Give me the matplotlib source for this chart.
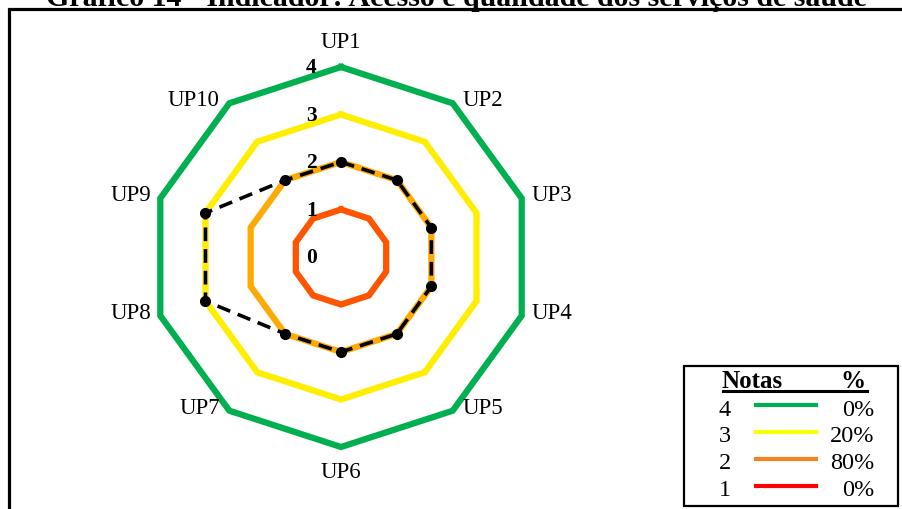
import numpy as np
import matplotlib.pyplot as plt
from matplotlib.patches import Rectangle

plt.rcParams['font.family'] = ['Liberation Serif', 'DejaVu Serif']

# scores of each unit (0-4 scale)
units = ['UP1', 'UP2', 'UP3', 'UP4', 'UP5', 'UP6', 'UP7', 'UP8', 'UP9', 'UP10']
scores = [2, 2, 2, 2, 2, 2, 2, 3, 3, 2]

# reference rings, one per grade
levels = [4, 3, 2, 1]
ring_colors = ['#00B050', '#FFEE00', '#FFAA00', '#FF5500']
legend_colors = ['#00B050', '#FFFF00', '#F58220', '#FF0000']
scale_ticks = [0, 1, 2, 3, 4]

title = 'Gráfico 14 - Indicador: Acesso e qualidade dos serviços de saúde'

n = len(units)
ang = np.pi / 2 - np.arange(n) * 2 * np.pi / n


def polar_xy(r):
    r = np.asarray(r, dtype=float)
    return r * np.cos(ang), r * np.sin(ang)


fig = plt.figure(figsize=(9.03, 5.10), dpi=100)
ax = fig.add_axes([0, 0, 1, 1])
px = 47.5  # pixels per unit
ax.set_xlim(-341 / px, (903 - 341) / px)
ax.set_ylim(-(510 - 258) / px, 258 / px)
ax.axis('off')

for lv, c in zip(levels, ring_colors):
    x, y = polar_xy([lv] * n)
    ax.plot(np.append(x, x[0]), np.append(y, y[0]), color=c, lw=4.5,
            solid_joinstyle='miter', zorder=2)

x, y = polar_xy(scores)
ax.plot(np.append(x, x[0]), np.append(y, y[0]), color='black', lw=2.6,
        ls=(0, (3.8, 2.2)), zorder=4)
ax.plot(x, y, 'o', color='black', ms=7, zorder=5)

for t in scale_ticks:
    ax.text(-0.62, t, str(t), ha='center', va='center', fontsize=15.5,
            fontweight='bold', zorder=6)

# unit labels just outside the outer ring
for i, name in enumerate(units):
    a = ang[i]
    cx, cy = np.cos(a), np.sin(a)
    if abs(cx) < 0.1:
        lx, ly = 0, 4.5 * np.sign(cy) + (0.03 if cy > 0 else -0.02)
        ha = 'center'
    else:
        lx, ly = 4 * cx + 0.2 * np.sign(cx), 4 * cy + 0.07
        ha = 'left' if cx > 0 else 'right'
    ax.text(lx, ly, name, ha=ha, va='center', fontsize=16.5)

# frame around the chart
fig.patches.append(Rectangle((9 / 903, -0.1), 1.2, 1 - 10 / 510 + 0.1,
                             transform=fig.transFigure, fill=False,
                             lw=2.3, ec='black', zorder=0))

fig.text(456 / 903, 1 - 6 / 510, title, ha='center', va='baseline',
         fontsize=21.5, fontweight='bold')

# grade legend
def fx(v):
    return v / 903


def fy(v):
    return 1 - v / 510


fig.patches.append(Rectangle((fx(684), fy(507)), fx(898 - 684), (507 - 367) / 510,
                             transform=fig.transFigure, fill=False,
                             lw=1.6, ec='black'))
fig.text(fx(752), fy(382), 'Notas', ha='center', va='center', fontsize=18,
         fontweight='bold')
fig.text(fx(853), fy(382), '%', ha='center', va='center', fontsize=18,
         fontweight='bold')
fig.add_artist(plt.Line2D([fx(723), fx(867)], [fy(392), fy(392)],
                          transform=fig.transFigure, color='black', lw=2.2))

row_y = [410, 437, 464, 491]
for lv, c, ry in zip(levels, legend_colors, row_y):
    pct = 100 * sum(s == lv for s in scores) / n
    fig.text(fx(725), fy(ry), str(lv), ha='center', va='center', fontsize=17.5)
    fig.add_artist(plt.Line2D([fx(756), fx(816)], [fy(ry - 4), fy(ry - 4)],
                              transform=fig.transFigure, color=c, lw=3))
    fig.text(fx(874), fy(ry), f'{pct:.0f}%', ha='right', va='center',
             fontsize=17.5)

plt.savefig('out.png', dpi=100)
